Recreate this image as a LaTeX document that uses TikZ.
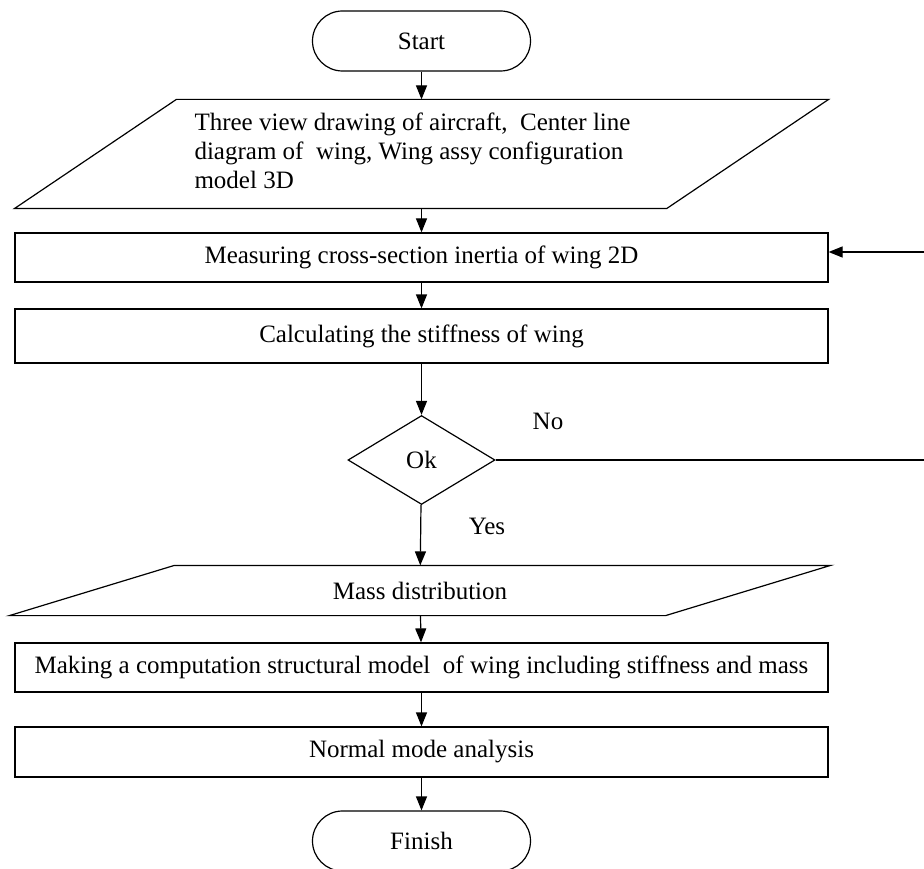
\documentclass[tikz,border=0pt]{standalone}
\usepackage{fontspec}
\setmainfont{Liberation Serif}
\usetikzlibrary{arrows.meta}
\usetikzlibrary{shapes.geometric}

\newcommand{\wingdata}{%
    \begin{tabular}{@{}l@{}}
        Three view drawing of aircraft,\ \ Center line\\
        diagram of\ \ wing, Wing assy configuration\\
        model 3D
    \end{tabular}\hspace*{18pt}%
}
\newcommand{\structmodel}{%
    Making a computation structural model\ \ of wing including stiffness and mass%
}

\begin{document}
\begin{tikzpicture}[x=1pt, y=-1pt,
                    font=\fontsize{25}{29}\selectfont,
                    line width=1.2pt,
                    terminal/.style={
                        draw, rounded corners=30pt,
                        minimum width=218pt, minimum height=60pt
                    },
                    process/.style={
                        draw, minimum width=813pt, inner sep=0pt
                    },
                    decision/.style={
                        draw, diamond, inner sep=0pt,
                        minimum width=147pt, minimum height=89pt
                    },
                    flow/.style={-{Triangle[width=11pt,length=14pt]}}]

    \useasboundingbox (0,0) rectangle (924,869);

    \node[terminal] (start) at (421.5,41) {Start};
    \node[process, draw=none, minimum height=108pt] (data) at (421.5,154) {\wingdata};
    \draw ([xshift=162pt]data.north west) -- (data.north east)
        -- ([xshift=-162pt]data.south east) -- (data.south west) -- cycle;
    \node[process, minimum height=49pt] (measure) at (421.5,257.5)
        {Measuring cross-section inertia of wing 2D};
    \node[process, minimum height=54pt] (stiff) at (421.5,336)
        {Calculating the stiffness of wing};
    \node[decision] (ok) at (421.5,460) {Ok};
    \node[process, draw=none, minimum width=820pt, minimum height=49pt] (mass) at (420,590.5)
        {Mass distribution};
    \draw ([xshift=165pt]mass.north west) -- (mass.north east)
        -- ([xshift=-165pt]mass.south east) -- (mass.south west) -- cycle;
    \node[process, minimum height=49pt] (model) at (421.5,667.5) {\structmodel};
    \node[process, minimum height=50pt] (modes) at (421.5,752)
        {Normal mode analysis};
    \node[terminal] (finish) at (421.5,841) {Finish};

    \node (no) at (548,421) {No};
    \node (yes) at (487,526) {Yes};

    % loop back on the right, cut off by the page edge
    \coordinate (noend) at (924,455);
    \coordinate (back) at (924,252);

    \draw[flow] (start) -- (data);
    \draw[flow] (data) -- (measure);
    \draw[flow] (measure) -- (stiff);
    \draw[flow] (stiff) -- (ok);
    \draw[flow] (ok) -- (mass);
    \draw[flow] (mass) -- (model);
    \draw[flow] (model) -- (modes);
    \draw[flow] (modes) -- (finish);
    \draw (ok.east) -- (ok.east -| noend);
    \draw[flow] (back) -- (back -| measure.east);

\end{tikzpicture}
\end{document}
